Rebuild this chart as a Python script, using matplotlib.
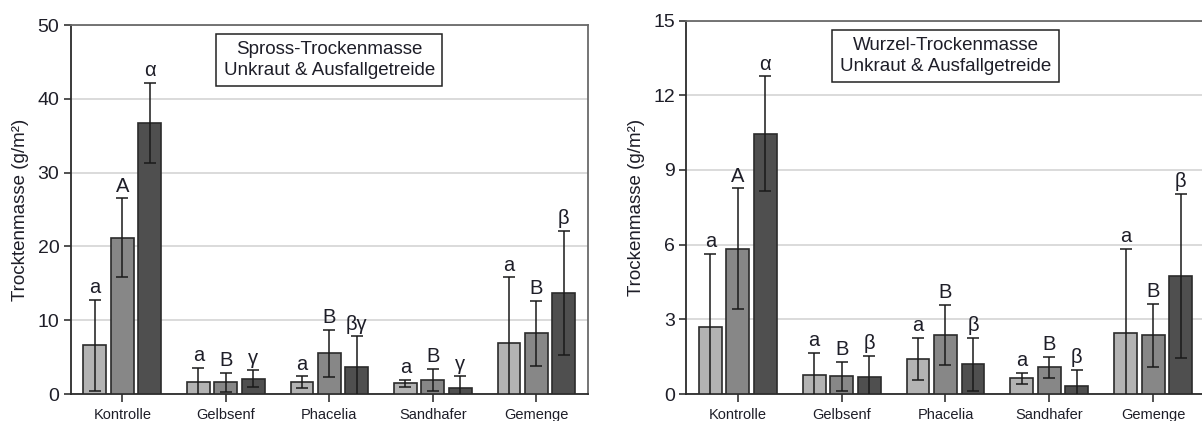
import numpy as np
import matplotlib.pyplot as plt

plt.rcParams['font.family'] = ['Liberation Sans', 'DejaVu Sans']

categories = ["Kontrolle", "Gelbsenf", "Phacelia", "Sandhafer", "Gemenge"]

# Spross-Trockenmasse (g/m²): mean and error per category, three series
spross_1 = [6.6, 1.6, 1.6, 1.45, 6.9]
spross_1_err = [6.2, 1.9, 0.8, 0.5, 8.9]
spross_2 = [21.2, 1.6, 5.5, 1.9, 8.2]
spross_2_err = [5.3, 1.3, 3.15, 1.5, 4.4]
spross_3 = [36.7, 2.1, 3.7, 0.8, 13.7]
spross_3_err = [5.45, 1.1, 4.1, 1.6, 8.4]
spross_letters = [["a", "a", "a", "a", "a"],
                  ["A", "B", "B", "B", "B"],
                  ["\u03b1", "\u03b3", "\u03b2\u03b3", "\u03b3", "\u03b2"]]

# Wurzel-Trockenmasse (g/m²)
wurzel_1 = [2.7, 0.77, 1.4, 0.63, 2.47]
wurzel_1_err = [2.93, 0.87, 0.84, 0.22, 3.37]
wurzel_2 = [5.84, 0.72, 2.36, 1.07, 2.36]
wurzel_2_err = [2.42, 0.58, 1.21, 0.42, 1.27]
wurzel_3 = [10.46, 0.67, 1.2, 0.33, 4.73]
wurzel_3_err = [2.3, 0.87, 1.06, 0.64, 3.3]
wurzel_letters = [["a", "a", "a", "a", "a"],
                  ["A", "B", "B", "B", "B"],
                  ["\u03b1", "\u03b2", "\u03b2", "\u03b2", "\u03b2"]]

colors = ["#b3b3b3", "#878787", "#4f4f4f"]
text_col = "#1e1e28"


def draw_panel(ax, means, errs, letters, ymax, yticks, ylabel, title):
    x = np.arange(len(categories))
    width = 0.22
    offsets = [-0.265, 0.0, 0.265]
    for i in range(3):
        xs = x + offsets[i]
        ax.bar(xs, means[i], width, color=colors[i], edgecolor="#2b2b2b",
               linewidth=1.2, zorder=3)
        ax.errorbar(xs, means[i], yerr=errs[i], fmt="none", ecolor="#1a1a1a",
                    elinewidth=1.1, capsize=4.5, capthick=1.1, zorder=4)
        for xi, m, e, lab in zip(xs, means[i], errs[i], letters[i]):
            ax.annotate(lab, (xi, m + e), xytext=(0, 2), textcoords="offset points",
                        ha="center", va="bottom", fontsize=14.5, color=text_col)
    ax.set_xlim(-0.5, len(categories) - 0.5)
    ax.set_ylim(0, ymax)
    ax.set_yticks(yticks)
    ax.set_xticks(x)
    ax.set_xticklabels(categories, fontsize=10.5, color=text_col)
    ax.tick_params(axis="y", labelsize=14, labelcolor=text_col, length=5,
                   width=1.2, color="#333333", pad=3)
    ax.tick_params(axis="x", length=6, width=1.2, color="#333333", pad=4)
    ax.yaxis.grid(True, color="#d8d8d8", linewidth=1.3, zorder=0)
    ax.set_axisbelow(True)
    for side in ["left", "bottom"]:
        ax.spines[side].set_color("#2b2b2b")
        ax.spines[side].set_linewidth(1.3)
    for side in ["top", "right"]:
        ax.spines[side].set_color("#6a6a6a")
        ax.spines[side].set_linewidth(1.3)
    ax.set_ylabel(ylabel, fontsize=13.5, color=text_col, labelpad=6)
    ax.text(0.5, 0.905, title, transform=ax.transAxes, ha="center", va="center",
            fontsize=13.5, color=text_col, linespacing=1.25,
            bbox=dict(boxstyle="square,pad=0.4", facecolor="white",
                      edgecolor="#222222", linewidth=1.1), zorder=5)


fig = plt.figure(figsize=(12.02, 4.21), dpi=100)
ax1 = fig.add_axes([0.0587, 0.0641, 0.4306, 0.8765])
ax2 = fig.add_axes([0.5707, 0.0641, 0.4318, 0.8872])

draw_panel(ax1, [spross_1, spross_2, spross_3],
           [spross_1_err, spross_2_err, spross_3_err], spross_letters,
           50, [0, 10, 20, 30, 40, 50], "Trocktenmasse (g/m\u00b2)",
           "Spross-Trockenmasse\nUnkraut & Ausfallgetreide")
draw_panel(ax2, [wurzel_1, wurzel_2, wurzel_3],
           [wurzel_1_err, wurzel_2_err, wurzel_3_err], wurzel_letters,
           15, [0, 3, 6, 9, 12, 15], "Trockenmasse (g/m\u00b2)",
           "Wurzel-Trockenmasse\nUnkraut & Ausfallgetreide")

fig.savefig("out.png", dpi=100)
